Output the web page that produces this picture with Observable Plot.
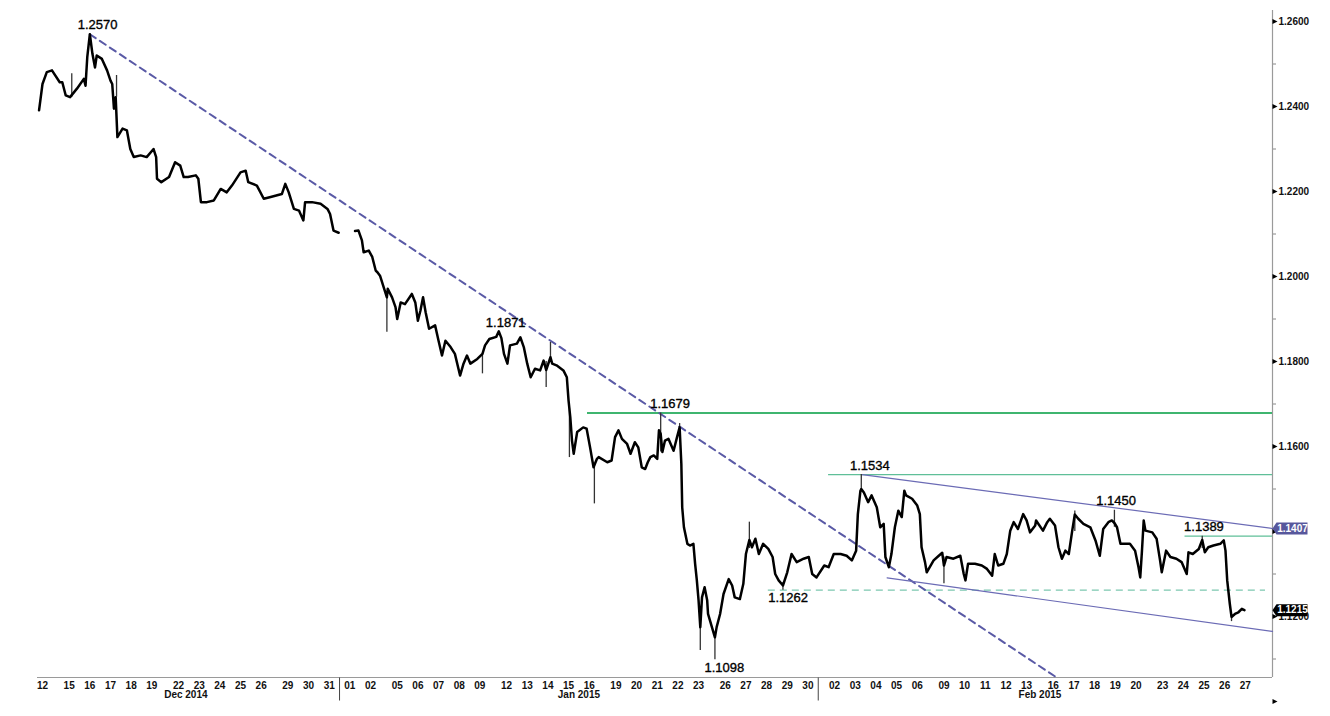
<!DOCTYPE html>
<html><head><meta charset="utf-8">
<script src="https://cdn.jsdelivr.net/npm/d3@7"></script>
<script src="https://cdn.jsdelivr.net/npm/@observablehq/plot@0.6"></script>
<style>body{margin:0;background:#fff;}</style>
</head><body><div id="chart"></div>
<script>
// ---- trading days shown on the x axis ----
const decDays = [12,15,16,17,18,19,22,23,24,25,26,29,30,31];
const janDays = [1,2,5,6,7,8,9,12,13,14,15,16,19,20,21,22,23,26,27,28,29,30];
const febDays = [2,3,4,5,6,9,10,11,12,13,16,17,18,19,20,23,24,25,26,27];
const monthNames = ["Dec 2014","Jan 2015","Feb 2015"];

// ---- EUR/USD hourly path: [MM-DD, hour, price] ----
const decPath = [
["12-12",8,1.2391],["12-12",12,1.2453],["12-12",17,1.2481],["12-12",23,1.2485],
["12-15",1,1.2457],["12-15",4,1.2457],["12-15",8,1.2426],["12-15",13,1.2422],["12-15",21,1.2442],
["12-16",5,1.2465],["12-16",7,1.2449],["12-16",9,1.2516],["12-16",12,1.2570],["12-16",15,1.2524],["12-16",18,1.2492],["12-16",20,1.2520],
["12-17",2,1.2512],["12-17",8,1.2485],["12-17",12,1.2461],["12-17",14,1.2453],["12-17",16,1.2395],["12-17",18,1.2422],["12-17",20,1.2328],
["12-18",2,1.2348],["12-18",7,1.2344],["12-18",11,1.2300],["12-18",15,1.2281],["12-18",23,1.2285],
["12-19",6,1.2281],["12-19",14,1.2300],["12-19",17,1.2281],["12-19",18,1.2230],["12-19",23,1.2222],
["12-22",1,1.2234],["12-22",8,1.2269],["12-22",14,1.2261],["12-22",18,1.2234],["12-22",23,1.2234],
["12-23",8,1.2238],["12-23",11,1.2230],["12-23",14,1.2175],["12-23",21,1.2175],
["12-24",5,1.2179],["12-24",13,1.2206],["12-24",20,1.2198],
["12-25",2,1.2214],["12-25",12,1.2245],["12-25",18,1.2249],["12-25",21,1.2222],
["12-26",7,1.2214],["12-26",15,1.2183],["12-26",23,1.2187],
["12-29",5,1.2194],["12-29",9,1.2218],["12-29",13,1.2198],["12-29",19,1.2159],
["12-30",1,1.2155],["12-30",6,1.2132],["12-30",8,1.2175],["12-30",16,1.2175],
["12-31",2,1.2171],["12-31",10,1.2159],["12-31",13,1.2147],["12-31",17,1.2108],["12-31",23,1.2103]
];
const janPath = [
["01-01",6,null],["01-01",18,1.2107],["01-01",22,1.2108],
["01-02",2,1.2085],["01-02",4,1.2057],["01-02",10,1.2061],["01-02",14,1.2046],["01-02",18,1.2014],["01-02",20,1.2010],["01-02",23,1.2002],
["01-05",0,1.1951],["01-05",1,1.1971],["01-05",6,1.1951],["01-05",10,1.1928],["01-05",12,1.1900],["01-05",16,1.1939],["01-05",21,1.1935],
["01-06",5,1.1959],["01-06",9,1.1939],["01-06",12,1.1896],["01-06",15,1.1920],["01-06",18,1.1951],["01-06",21,1.1916],
["01-07",1,1.1877],["01-07",8,1.1885],["01-07",12,1.1849],["01-07",16,1.1814],["01-07",20,1.1849],
["01-08",2,1.1834],["01-08",7,1.1818],["01-08",13,1.1767],["01-08",17,1.1795],["01-08",21,1.1814],
["01-09",1,1.1795],["01-09",9,1.1806],["01-09",15,1.1818],["01-09",18,1.1838],["01-09",23,1.1853],
["01-12",0,1.1858],["01-12",3,1.1871],["01-12",6,1.1855],["01-12",9,1.1818],["01-12",13,1.1795],["01-12",16,1.1838],
["01-13",0,1.1842],["01-13",4,1.1857],["01-13",8,1.1834],["01-13",12,1.1795],["01-13",16,1.1763],["01-13",21,1.1783],
["01-14",3,1.1779],["01-14",7,1.1802],["01-14",10,1.1780],["01-14",15,1.1810],["01-14",17,1.1795],["01-14",22,1.1791],
["01-15",6,1.1779],["01-15",10,1.1763],["01-15",12,1.1708],["01-15",14,1.1669],["01-15",16,1.1614],["01-15",18,1.1583],["01-15",22,1.1634],
["01-16",5,1.1645],["01-16",9,1.1642],["01-16",13,1.1598],["01-16",17,1.1551],["01-16",21,1.1571],["01-16",23,1.1575],
["01-19",2,1.1563],["01-19",7,1.1567],["01-19",11,1.1622],["01-19",15,1.1638],["01-19",19,1.1618],
["01-20",1,1.1606],["01-20",5,1.1583],["01-20",10,1.1610],["01-20",14,1.1598],["01-20",18,1.1551],["01-20",22,1.1547],
["01-21",1,1.1563],["01-21",4,1.1575],["01-21",8,1.1579],["01-21",12,1.1571],["01-21",14,1.1638],["01-21",16,1.1630],["01-21",18,1.1587],["01-21",21,1.1614],
["01-22",1,1.1618],["01-22",7,1.1590],["01-22",11,1.1622],["01-22",14,1.1645],["01-22",16,1.1559],["01-22",17,1.1457],["01-22",19,1.1410],["01-22",23,1.1371],
["01-23",2,1.1367],["01-23",6,1.1371],["01-23",8,1.1324],["01-23",10,1.1285],["01-23",12,1.1238],["01-23",14,1.1175],["01-23",16,1.1245],["01-23",19,1.1269],["01-23",22,1.1238],["01-23",23,1.1206],
["01-26",0,1.1151],["01-26",2,1.1175],["01-26",6,1.1206],["01-26",10,1.1253],["01-26",16,1.1288],["01-26",20,1.1273],["01-26",23,1.1245],
["01-27",5,1.1241],["01-27",9,1.1277],["01-27",12,1.1347],["01-27",16,1.1380],["01-27",19,1.1363],["01-27",23,1.1383],
["01-28",3,1.1347],["01-28",8,1.1371],["01-28",14,1.1359],["01-28",19,1.1340],["01-28",22,1.1300],
["01-29",2,1.1285],["01-29",7,1.1273],["01-29",12,1.1304],["01-29",17,1.1347],["01-29",23,1.1328],
["01-30",7,1.1336],["01-30",13,1.1340],["01-30",17,1.1300],["01-30",22,1.1292]
];
const febPath = [
["02-02",0,1.1320],["02-02",5,1.1316],["02-02",11,1.1347],["02-02",19,1.1347],
["02-03",2,1.1343],["02-03",8,1.1332],["02-03",13,1.1355],["02-03",15,1.1441],["02-03",18,1.1496],["02-03",19,1.1500],["02-03",22,1.1492],
["02-04",3,1.1469],["02-04",7,1.1485],["02-04",13,1.1457],["02-04",17,1.1410],["02-04",21,1.1418],["02-04",23,1.1340],
["02-05",3,1.1316],["02-05",6,1.1347],["02-05",10,1.1410],["02-05",14,1.1449],["02-05",18,1.1434],["02-05",21,1.1496],["02-05",23,1.1485],
["02-06",6,1.1477],["02-06",12,1.1461],["02-06",15,1.1441],["02-06",17,1.1363],["02-06",21,1.1328],["02-06",23,1.1304],
["02-09",0,1.1332],["02-09",6,1.1343],["02-09",10,1.1350],["02-09",12,1.1320],["02-09",15,1.1340],["02-09",23,1.1336],
["02-10",7,1.1343],["02-10",11,1.1300],["02-10",13,1.1285],["02-10",16,1.1324],
["02-11",0,1.1324],["02-11",8,1.1320],["02-11",14,1.1312],["02-11",20,1.1296],["02-11",23,1.1347],
["02-12",3,1.1320],["02-12",9,1.1324],["02-12",13,1.1347],["02-12",17,1.1402],["02-12",21,1.1422],
["02-13",2,1.1406],["02-13",8,1.1441],["02-13",12,1.1426],["02-13",16,1.1398],["02-13",22,1.1414],["02-13",23,1.1426],
["02-16",0,1.1402],["02-16",5,1.1422],["02-16",8,1.1430],["02-16",14,1.1414],["02-16",18,1.1363],["02-16",22,1.1336],
["02-17",2,1.1355],["02-17",6,1.1347],["02-17",10,1.1402],["02-17",13,1.1440],["02-17",17,1.1430],["02-17",23,1.1418],
["02-18",7,1.1410],["02-18",13,1.1379],["02-18",18,1.1343],["02-18",22,1.1406],
["02-19",4,1.1422],["02-19",8,1.1426],["02-19",11,1.1420],["02-19",14,1.1410],["02-19",18,1.1371],["02-19",23,1.1371],
["02-20",5,1.1371],["02-20",11,1.1355],["02-20",15,1.1316],["02-20",17,1.1292],["02-20",19,1.1355],["02-20",21,1.1426],["02-20",23,1.1402],
["02-23",0,1.1398],["02-23",5,1.1383],["02-23",9,1.1332],["02-23",11,1.1304],["02-23",16,1.1355],["02-23",21,1.1340],
["02-24",4,1.1336],["02-24",10,1.1328],["02-24",16,1.1300],["02-24",18,1.1351],["02-24",23,1.1347],
["02-25",6,1.1359],["02-25",10,1.1380],["02-25",13,1.1351],["02-25",17,1.1363],["02-25",23,1.1367],
["02-26",7,1.1371],["02-26",11,1.1379],["02-26",13,1.1355],["02-26",15,1.1285],["02-26",18,1.1230],["02-26",20,1.1199],
["02-27",0,1.1206],["02-27",4,1.1210],["02-27",8,1.1218],["02-27",11,1.1215]
];
// wicks: [MM-DD, hour, low, high]
const wicks = [
["12-15",15,1.2422,1.2477],["12-17",19,1.2422,1.2473],["01-05",0,1.1869,1.1951],["01-09",15,1.1771,1.1818],
["01-14",10,1.1739,1.1800],["01-14",15,1.1800,1.1845],["01-15",13,1.1574,1.1690],["01-16",18,1.1465,1.1560],
["01-21",16,1.1587,1.1679],["01-22",14,1.1620,1.1654],["01-23",14,1.1120,1.1175],["01-26",0,1.1098,1.1160],
["01-27",16,1.1360,1.1422],["01-29",7,1.1262,1.1280],["02-03",19,1.1495,1.1534],["02-09",12,1.1277,1.1340],
["02-17",13,1.1400,1.1448],["02-19",11,1.1410,1.1450],["02-25",10,1.1360,1.1389],["02-26",20,1.1188,1.1205]
];

// ---- annotations ----
const noteValues = [1.2570, 1.1871, 1.1679, 1.1534, 1.1450, 1.1389, 1.1262, 1.1098];
const noteTimes  = [["12-16",21],["01-12",11],["01-22",3],["02-04",5],["02-19",13],["02-25",12],["01-29",13],["01-26",11]];
const noteSide   = ["high","high","high","high","high","high","low","low"];

const levelPrices = [1.1679, 1.1534, 1.1389];
const levelStarts = [["01-16",10],["02-02",5],["02-24",14]];
const supportPrice = 1.1262;
const supportSpan = [["01-28",14],["02-27",35.5]];
const trendPoints = [["12-16",12,1.2570],["02-16",14,1.1059]];
const channelUpper = [["02-03",20,1.1534], 1.1407];
const channelLower = [["02-05",1,1.1291], 1.1165];
const lastPrice = 1.1215;

const yMajor = [1.12,1.14,1.16,1.18,1.20,1.22,1.24,1.26];
const yArrows = [1.10,1.12,1.14,1.16,1.18,1.20,1.22,1.24,1.26];
const yMinor = [1.11,1.13,1.15,1.17,1.19,1.21,1.23,1.25];
const yHiddenByTag = [1.14]; // label covered by the 1.1407 tag in the original

// ---- compressed trading-time scale (weekends shortened) ----
const tradingDays = [
  ...decDays.map(d => new Date(Date.UTC(2014,11,d))),
  ...janDays.map(d => new Date(Date.UTC(2015,0,d))),
  ...febDays.map(d => new Date(Date.UTC(2015,1,d)))
];
const keyOf = dt => `${String(dt.getUTCMonth()+1).padStart(2,"0")}-${String(dt.getUTCDate()).padStart(2,"0")}`;
const weekendsBefore = []; let wk = 0;
tradingDays.forEach((d,i) => { if (i>0 && (d - tradingDays[i-1]) > 1.5*86400000) wk++; weekendsBefore.push(wk); });
const WEEKEND_HOURS = 7;
const dayIndex = new Map(tradingDays.map((d,i) => [keyOf(d), i]));
const T = (key, hour) => { const i = dayIndex.get(key); return 24*i + WEEKEND_HOURS*weekendsBefore[i] + hour; };

const xDomain = [T("12-12",6.2), T("02-27",43.6)];
const yDomain = [1.10565, 1.26259];
const xEnd = xDomain[1];

const path = [...decPath, ...janPath, ...febPath].map(([k,h,p]) => ({t: T(k,h), p}));
const wickData = wicks.map(([k,h,lo,hi]) => ({t: T(k,h), lo, hi}));
const notes = noteValues.map((v,i) => ({t: T(noteTimes[i][0], noteTimes[i][1]), p: v, side: noteSide[i], text: v.toFixed(4)}));
const levels = levelPrices.map((p,i) => ({p, x1: T(levelStarts[i][0], levelStarts[i][1]), x2: xEnd, main: i === 0}));
const support = [{p: supportPrice, x1: T(...supportSpan[0]), x2: T(...supportSpan[1])}];
const trend = trendPoints.map(([k,h,p]) => ({t: T(k,h), p}));
const channel = [
  {z:"u", t: T(channelUpper[0][0], channelUpper[0][1]), p: channelUpper[0][2]},
  {z:"u", t: xEnd, p: channelUpper[1]},
  {z:"l", t: T(channelLower[0][0], channelLower[0][1]), p: channelLower[0][2]},
  {z:"l", t: xEnd, p: channelLower[1]}
];
const dayTicks = tradingDays.map(d => T(keyOf(d), 12));
const dayLabel = new Map(tradingDays.map(d => [T(keyOf(d),12), String(d.getUTCDate()).padStart(2,"0")]));
const monthBreaks = [T("12-31",24), T("01-30",24)];
const months = [
  {name: monthNames[0], t: (T("12-12",0) + T("12-31",24))/2},
  {name: monthNames[1], t: (T("01-01",0) + T("01-30",24))/2},
  {name: monthNames[2], t: (T("02-02",0) + T("02-27",24))/2}
];

// custom symbols
const arrowSym = {draw(ctx){ ctx.moveTo(0,-2.5); ctx.lineTo(5,0); ctx.lineTo(0,2.5); ctx.closePath(); }};
const tagSym = {draw(ctx){ ctx.moveTo(0,0); ctx.lineTo(4,-6); ctx.lineTo(35,-6); ctx.lineTo(35,6); ctx.lineTo(4,6); ctx.closePath(); }};
const vlineSym = {draw(ctx){ ctx.moveTo(0,0); ctx.lineTo(0,23); }};

const noteStyle = {x: "t", y: "p", text: "text", fontSize: 13, fill: "#000", stroke: "#000", strokeWidth: 0.35, textAnchor: "middle"};
const tagText = {frameAnchor: "right", dx: 20, textAnchor: "middle", fill: "#fff", fontSize: 10, fontWeight: "bold"};

const chart = Plot.plot({
  width: 1330, height: 716,
  marginLeft: 37, marginRight: 58, marginTop: 10, marginBottom: 39,
  x: {domain: xDomain, axis: null},
  y: {domain: yDomain, axis: null},
  style: {fontFamily: "'Liberation Sans', Arial, sans-serif", background: "#fff", color: "#111"},
  marks: [
    Plot.ruleY([yDomain[0]], {stroke: "#9a9a9a", strokeWidth: 1.2}),
    Plot.ruleX([xEnd], {stroke: "#9a9a9a", strokeWidth: 1.2}),
    Plot.ruleY(levels.filter(d => d.main), {y: "p", x1: "x1", x2: "x2", stroke: "#3fb56f", strokeWidth: 2}),
    Plot.ruleY(levels.filter(d => !d.main), {y: "p", x1: "x1", x2: "x2", stroke: "#5fbf98", strokeWidth: 1.2}),
    Plot.ruleY(support, {y: "p", x1: "x1", x2: "x2", stroke: "#7cc7b0", strokeWidth: 1.3, strokeDasharray: "7,5"}),
    Plot.line(trend, {x: "t", y: "p", stroke: "#5a5aa6", strokeWidth: 2, strokeDasharray: "7,5"}),
    Plot.line(channel, {x: "t", y: "p", z: "z", stroke: "#6b6bb5", strokeWidth: 1.2}),
    Plot.ruleX(wickData, {x: "t", y1: "lo", y2: "hi", stroke: "#333", strokeWidth: 1.3}),
    Plot.line(path, {x: "t", y: "p", stroke: "#000", strokeWidth: 2.5}),
    Plot.text(notes.filter(d => d.side === "high"), {...noteStyle, dy: -9}),
    Plot.text(notes.filter(d => d.side === "low"), {...noteStyle, dy: 8}),
    Plot.axisX({ticks: dayTicks, tickFormat: d => dayLabel.get(d), tickSize: 0, tickPadding: 4, fontSize: 10, fontWeight: "bold", label: null, fill: "#111"}),
    Plot.text(months, {x: "t", text: "name", frameAnchor: "bottom", dy: 20, textAnchor: "middle", fontSize: 10, fontWeight: "bold", fill: "#111"}),
    Plot.dot(monthBreaks, {x: d => d, frameAnchor: "bottom", symbol: vlineSym, stroke: "#444", fill: "none", strokeWidth: 1}),
    Plot.axisY({anchor: "right", ticks: yMinor, tickSize: 3, tickFormat: () => "", stroke: "#888", label: null}),
    Plot.axisY({anchor: "right", ticks: yMajor.filter(v => !yHiddenByTag.includes(v)), tickSize: 5, tickPadding: 1, tickFormat: d => d.toFixed(4), fontSize: 10, fontWeight: "bold", label: null, stroke: "none"}),
    Plot.dot(yArrows, {y: d => d, frameAnchor: "right", symbol: arrowSym, fill: "#000", stroke: "none"}),
    Plot.dot([channelUpper[1]], {y: d => d, frameAnchor: "right", symbol: tagSym, fill: "#57579c", stroke: "none"}),
    Plot.text([channelUpper[1]], {y: d => d, text: d => d.toFixed(4), ...tagText}),
    Plot.dot([lastPrice], {y: d => d, frameAnchor: "right", symbol: tagSym, fill: "#000", stroke: "none"}),
    Plot.text([lastPrice], {y: d => d, text: d => d.toFixed(4), ...tagText})
  ]
});
document.getElementById("chart").append(chart);
</script>
</body></html>
